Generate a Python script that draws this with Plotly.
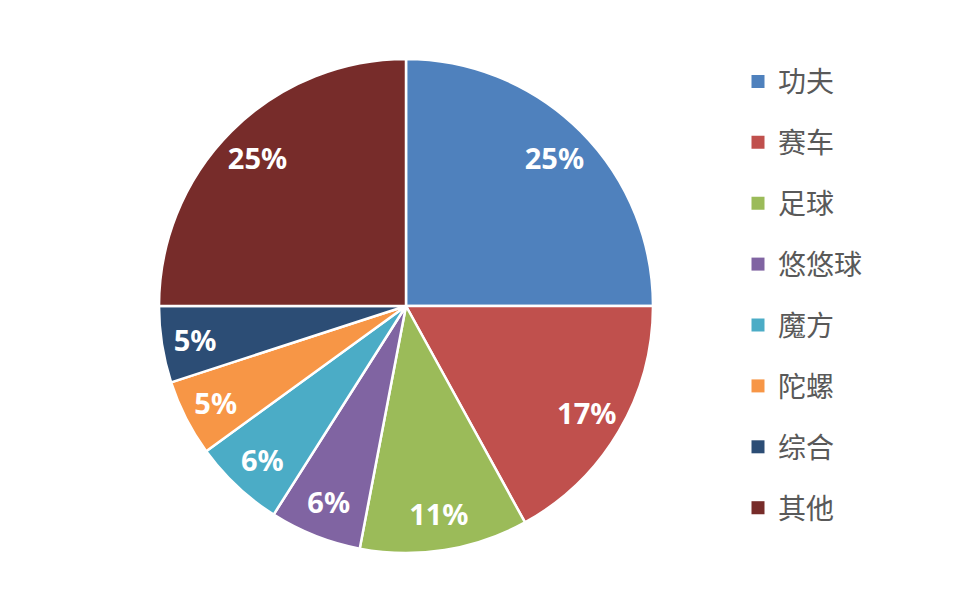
import plotly.graph_objects as go

labels = ["功夫", "赛车", "足球", "悠悠球", "魔方", "陀螺", "综合", "其他"]
values = [25, 17, 11, 6, 6, 5, 5, 25]
colors = ["#4F81BD", "#C0504D", "#9BBB59", "#8064A2",
          "#4BACC6", "#F79646", "#2C4D75", "#772C2A"]

# pie placement (pixels), tweaked to match the picture
cx, cy, r = 398, 298, 247
dom = dict(x=[(cx - r) / 953, (cx + r) / 953],
           y=[(610 - cy - r) / 610, (610 - cy + r) / 610])

fig = go.Figure()

# full pie, no text
fig.add_trace(go.Pie(
    labels=labels, values=values, sort=False, direction="clockwise",
    rotation=0,
    marker=dict(colors=colors, line=dict(color="white", width=2.5)),
    textinfo="none", domain=dom, showlegend=False,
    hoverinfo="label+percent",
))

# invisible ring on top, only there to push the labels outward
fig.add_trace(go.Pie(
    labels=labels, values=values, sort=False, direction="clockwise",
    rotation=0, hole=0.7,
    marker=dict(colors=["rgba(0,0,0,0)"] * len(labels), line=dict(width=0)),
    texttemplate="<b>%{percent:.0%}</b>",
    textposition="inside",
    insidetextorientation="horizontal",
    textfont=dict(family="Noto Sans", size=29, color="white"),
    domain=dom, showlegend=False,
    hoverinfo="skip",
))

# legend entries as dummy traces so the row spacing can be set
for lab, col in zip(labels, colors):
    fig.add_trace(go.Scatter(
        x=[None], y=[None], mode="markers", name=lab, legendgroup=lab,
        marker=dict(symbol="square", size=13, color=col),
    ))

fig.update_layout(
    width=953, height=610,
    margin=dict(l=0, r=0, t=0, b=0),
    paper_bgcolor="white", plot_bgcolor="white",
    xaxis=dict(visible=False), yaxis=dict(visible=False),
    legend=dict(
        x=730 / 953, y=0.53, xanchor="left", yanchor="middle",
        font=dict(family="Noto Sans CJK SC", size=28, color="#595959"),
        tracegroupgap=21.5, itemclick=False,
    ),
)

fig.write_html("out.html")
